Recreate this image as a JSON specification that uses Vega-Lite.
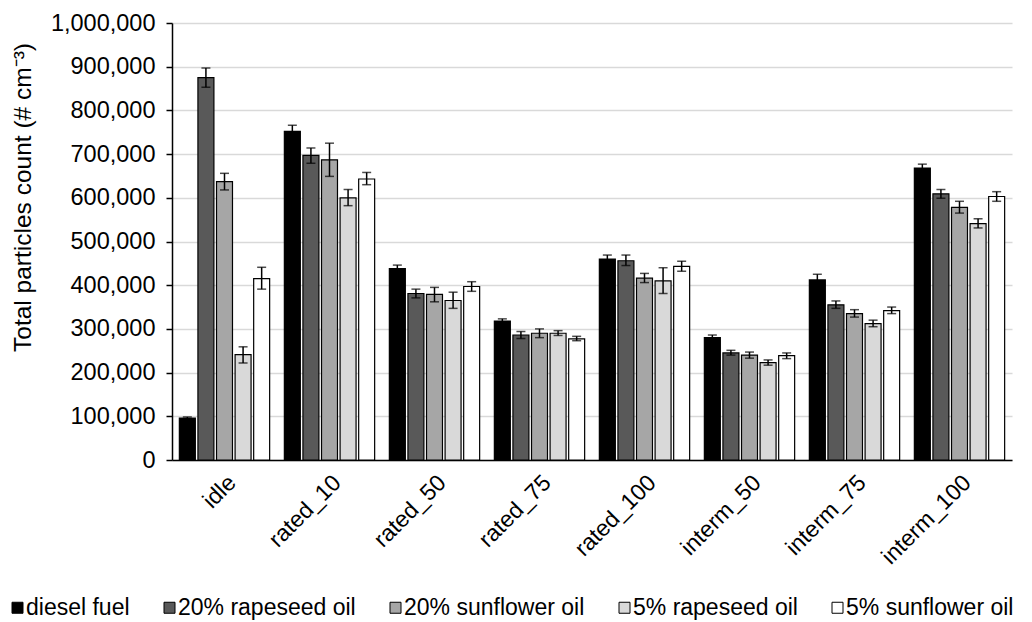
{
  "$schema": "https://vega.github.io/schema/vega-lite/v6.json",
  "width": 840,
  "height": 437,
  "autosize": {"type": "none"},
  "padding": {"left": 172, "top": 23, "right": 20, "bottom": 162},
  "background": "white",
  "config": {
    "font": "Liberation Sans",
    "view": {"stroke": null}
  },
  "data": {
    "values": [
      {"mode": "idle", "fuel": "diesel fuel", "value": 96000, "lo": 93500, "hi": 98500},
      {"mode": "idle", "fuel": "20% rapeseed oil", "value": 875000, "lo": 853000, "hi": 897000},
      {"mode": "idle", "fuel": "20% sunflower oil", "value": 637000, "lo": 618000, "hi": 656000},
      {"mode": "idle", "fuel": "5% rapeseed oil", "value": 241000, "lo": 222000, "hi": 259000},
      {"mode": "idle", "fuel": "5% sunflower oil", "value": 415000, "lo": 391000, "hi": 441000},
      {"mode": "rated_10", "fuel": "diesel fuel", "value": 752000, "lo": 739000, "hi": 766000},
      {"mode": "rated_10", "fuel": "20% rapeseed oil", "value": 697000, "lo": 679000, "hi": 714000},
      {"mode": "rated_10", "fuel": "20% sunflower oil", "value": 687000, "lo": 649000, "hi": 725000},
      {"mode": "rated_10", "fuel": "5% rapeseed oil", "value": 600000, "lo": 582000, "hi": 619000},
      {"mode": "rated_10", "fuel": "5% sunflower oil", "value": 643000, "lo": 630000, "hi": 658000},
      {"mode": "rated_50", "fuel": "diesel fuel", "value": 438000, "lo": 430000, "hi": 446000},
      {"mode": "rated_50", "fuel": "20% rapeseed oil", "value": 381000, "lo": 371000, "hi": 391000},
      {"mode": "rated_50", "fuel": "20% sunflower oil", "value": 379000, "lo": 362000, "hi": 395000},
      {"mode": "rated_50", "fuel": "5% rapeseed oil", "value": 365000, "lo": 347000, "hi": 384000},
      {"mode": "rated_50", "fuel": "5% sunflower oil", "value": 397000, "lo": 386000, "hi": 408000},
      {"mode": "rated_75", "fuel": "diesel fuel", "value": 318000, "lo": 313000, "hi": 323000},
      {"mode": "rated_75", "fuel": "20% rapeseed oil", "value": 286000, "lo": 278000, "hi": 294000},
      {"mode": "rated_75", "fuel": "20% sunflower oil", "value": 290000, "lo": 280000, "hi": 300000},
      {"mode": "rated_75", "fuel": "5% rapeseed oil", "value": 290000, "lo": 285000, "hi": 296000},
      {"mode": "rated_75", "fuel": "5% sunflower oil", "value": 277000, "lo": 273000, "hi": 283000},
      {"mode": "rated_100", "fuel": "diesel fuel", "value": 460000, "lo": 451000, "hi": 469000},
      {"mode": "rated_100", "fuel": "20% rapeseed oil", "value": 456000, "lo": 445000, "hi": 469000},
      {"mode": "rated_100", "fuel": "20% sunflower oil", "value": 416000, "lo": 406000, "hi": 427000},
      {"mode": "rated_100", "fuel": "5% rapeseed oil", "value": 410000, "lo": 381000, "hi": 440000},
      {"mode": "rated_100", "fuel": "5% sunflower oil", "value": 443000, "lo": 432000, "hi": 455000},
      {"mode": "interm_50", "fuel": "diesel fuel", "value": 280000, "lo": 274000, "hi": 286000},
      {"mode": "interm_50", "fuel": "20% rapeseed oil", "value": 245000, "lo": 240000, "hi": 251000},
      {"mode": "interm_50", "fuel": "20% sunflower oil", "value": 240000, "lo": 233000, "hi": 247000},
      {"mode": "interm_50", "fuel": "5% rapeseed oil", "value": 223000, "lo": 217000, "hi": 229000},
      {"mode": "interm_50", "fuel": "5% sunflower oil", "value": 239000, "lo": 232000, "hi": 245000},
      {"mode": "interm_75", "fuel": "diesel fuel", "value": 412000, "lo": 399000, "hi": 425000},
      {"mode": "interm_75", "fuel": "20% rapeseed oil", "value": 355000, "lo": 347000, "hi": 364000},
      {"mode": "interm_75", "fuel": "20% sunflower oil", "value": 335000, "lo": 327000, "hi": 344000},
      {"mode": "interm_75", "fuel": "5% rapeseed oil", "value": 312000, "lo": 305000, "hi": 320000},
      {"mode": "interm_75", "fuel": "5% sunflower oil", "value": 342000, "lo": 335000, "hi": 350000},
      {"mode": "interm_100", "fuel": "diesel fuel", "value": 668000, "lo": 659000, "hi": 677000},
      {"mode": "interm_100", "fuel": "20% rapeseed oil", "value": 609000, "lo": 599000, "hi": 619000},
      {"mode": "interm_100", "fuel": "20% sunflower oil", "value": 578000, "lo": 565000, "hi": 592000},
      {"mode": "interm_100", "fuel": "5% rapeseed oil", "value": 541000, "lo": 531000, "hi": 552000},
      {"mode": "interm_100", "fuel": "5% sunflower oil", "value": 603000, "lo": 592000, "hi": 614000}
    ]
  },
  "encoding": {
    "x": {
      "field": "mode",
      "type": "nominal",
      "sort": ["idle", "rated_10", "rated_50", "rated_75", "rated_100", "interm_50", "interm_75", "interm_100"],
      "scale": {"paddingInner": 0.14, "paddingOuter": 0.07},
      "axis": {
        "title": null,
        "labelAngle": -45,
        "labelFontSize": 23,
        "labelColor": "#000000",
        "labelPadding": 11,
        "ticks": false,
        "domainColor": "#000000",
        "domainWidth": 1.5,
        "grid": false
      }
    },
    "xOffset": {
      "field": "fuel",
      "type": "nominal",
      "sort": ["diesel fuel", "20% rapeseed oil", "20% sunflower oil", "5% rapeseed oil", "5% sunflower oil"],
      "scale": {"paddingInner": 0.14, "paddingOuter": 0}
    },
    "y": {
      "field": "value",
      "type": "quantitative",
      "scale": {"domain": [0, 1000000], "nice": false},
      "axis": {
        "title": "Total particles count (# cm⁻³)",
        "titleFontSize": 24.5,
        "titleFontWeight": "normal",
        "titleColor": "#000000",
        "titlePadding": 15,
        "titleY": 174,
        "format": ",d",
        "values": [0, 100000, 200000, 300000, 400000, 500000, 600000, 700000, 800000, 900000, 1000000],
        "labelOverlap": false,
        "labelFontSize": 23.5,
        "labelColor": "#000000",
        "labelPadding": 11,
        "tickSize": 6,
        "tickColor": "#000000",
        "tickWidth": 1.5,
        "domainColor": "#000000",
        "domainWidth": 1.5,
        "gridColor": "#d9d9d9",
        "gridWidth": 1.5
      }
    }
  },
  "layer": [
    {
      "mark": {"type": "bar", "stroke": "#000000", "strokeWidth": 1.2},
      "encoding": {
        "fill": {
          "field": "fuel",
          "type": "nominal",
          "sort": ["diesel fuel", "20% rapeseed oil", "20% sunflower oil", "5% rapeseed oil", "5% sunflower oil"],
          "scale": {
            "domain": ["diesel fuel", "20% rapeseed oil", "20% sunflower oil", "5% rapeseed oil", "5% sunflower oil"],
            "range": ["#000000", "#595959", "#a6a6a6", "#d9d9d9", "#ffffff"]
          },
          "legend": {
            "title": null,
            "orient": "none",
            "direction": "horizontal",
            "legendX": -166,
            "legendY": 573,
            "symbolType": "square",
            "symbolSize": 121,
            "symbolStrokeColor": "#000000",
            "symbolStrokeWidth": 1,
            "labelFontSize": 23,
            "labelColor": "#000000",
            "labelOffset": -3,
            "columnPadding": 28,
            "labelLimit": 400
          }
        }
      }
    },
    {
      "mark": {"type": "rule", "color": "#000000", "strokeWidth": 1.5},
      "encoding": {
        "y": {"field": "lo", "type": "quantitative"},
        "y2": {"field": "hi"}
      }
    },
    {
      "mark": {"type": "tick", "color": "#000000", "thickness": 1.5, "size": 9},
      "encoding": {"y": {"field": "lo", "type": "quantitative"}}
    },
    {
      "mark": {"type": "tick", "color": "#000000", "thickness": 1.5, "size": 9},
      "encoding": {"y": {"field": "hi", "type": "quantitative"}}
    }
  ]
}
